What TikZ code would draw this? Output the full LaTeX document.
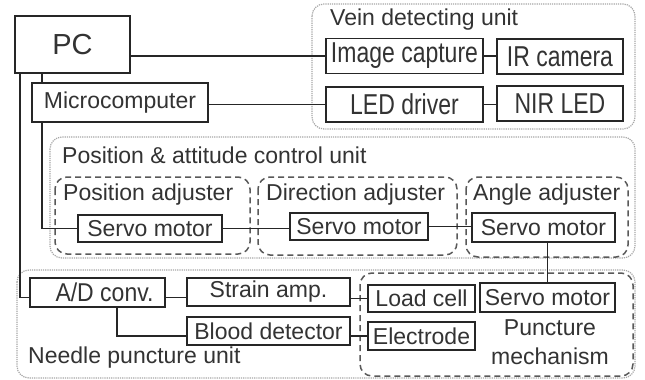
\documentclass[tikz,border=0pt]{standalone}
\usepackage{graphicx}
\usepackage{fontspec}
\setmainfont{Liberation Sans}
\newcommand{\tallA}[1]{\scalebox{1}[1.25]{#1}}
\newcommand{\tallB}[1]{\scalebox{1}[1.12]{#1}}
\begin{document}
\begin{tikzpicture}[x=1pt,y=-1pt,
  txt/.style={text=black!80, font=\fontsize{23}{26}\selectfont},
  box/.style={draw=black!85, line width=1.6pt, inner sep=0pt, txt},
  unit/.style={draw=black!35, densely dotted, line width=1.2pt, rounded corners=12pt},
  sub/.style={draw=black!65, dash pattern=on 6pt off 4pt, line width=1.5pt, rounded corners=12pt},
  lbl/.style={txt, anchor=west, inner sep=0pt},
  conn/.style={draw=black!85, line width=1.6pt},
  thin/.style={draw=black!85, line width=1.1pt}]
\useasboundingbox (0,0) rectangle (645,380);
\fill[white] (0,0) rectangle (645,380);
% unit frames
\draw[unit] (312,4) rectangle (635,129);
\draw[unit] (50,137) rectangle (635,258);
\draw[unit] (17,270) rectangle (635,378);
\draw[sub] (55,177) rectangle (250,254);
\draw[sub] (258,177) rectangle (457,255);
\draw[sub] (466,177) rectangle (628,257);
\draw[sub] (360,273) rectangle (633,376);
% labels
\node[lbl] (lv) at (330,20) {Vein detecting unit};
\node[lbl] (lp) at (62,155) {Position \& attitude control unit};
\node[lbl] (lpa) at (63,195) {Position adjuster};
\node[lbl] (lda) at (266,195) {Direction adjuster};
\node[lbl] (laa) at (473,195) {Angle adjuster};
\node[lbl] (ln) at (28,358) {Needle puncture unit};
\node[txt, align=center, inner sep=0pt, font=\fontsize{23}{29}\selectfont] (pm) at (550,342) {Puncture\\mechanism};
% boxes
\node[box, minimum width=115pt, minimum height=57pt, font=\fontsize{29}{32}\selectfont] (pc) at (72.5,44.5) {PC};
\node[box, minimum width=176pt, minimum height=39pt] (mc) at (120,102.5) {Microcomputer};
\node[box, minimum width=157pt, minimum height=35pt] (img) at (404.5,56) {\tallA{Image capture}};
\node[box, minimum width=126pt, minimum height=35pt] (ir) at (560,56.5) {\tallA{IR camera}};
\node[box, minimum width=157pt, minimum height=35pt] (led) at (404.5,104.5) {\tallA{LED driver}};
\node[box, minimum width=126pt, minimum height=35pt] (nir) at (560,103.5) {\tallA{NIR LED}};
\node[box, minimum width=144pt, minimum height=27pt] (s1) at (150,228.5) {Servo motor};
\node[box, minimum width=138pt, minimum height=27pt] (s2) at (359,226.5) {Servo motor};
\node[box, minimum width=143pt, minimum height=29pt] (s3) at (543.5,227.5) {Servo motor};
\node[box, minimum width=135pt, minimum height=29pt] (ad) at (97.5,292.5) {\hspace*{14pt}\tallB{A/D conv.}};
\node[box, minimum width=163pt, minimum height=28pt] (sa) at (268.5,292) {Strain amp.};
\node[box, minimum width=163pt, minimum height=28pt] (bd) at (268.5,331) {Blood detector};
\node[box, minimum width=107pt, minimum height=27pt] (lc) at (421.5,298.5) {Load cell};
\node[box, minimum width=135pt, minimum height=29pt] (s4) at (547.5,297.5) {Servo motor};
\node[box, minimum width=107pt, minimum height=28pt] (el) at (421.5,336) {Electrode};
% connectors
\draw[conn] (pc.east |- img.west) -- (img.west);
\draw[conn] (mc.east |- led.west) -- (led.west);
\draw[conn] (img.east) -- (ir.west |- img.east);
\draw[conn] (led.east) -- (nir.west |- led.east);
\coordinate (pcA) at (42,0);
\coordinate (pcB) at (20,0);
\draw[conn] (pc.south -| pcA) -- (mc.north -| pcA);
\draw[conn] (mc.south -| pcA) |- (s1.west);
\draw[conn] (pc.south -| pcB) |- ([yshift=-5pt]ad.west);
\draw[thin] (s1.east) -- (s2.west |- s1.east);
\draw[thin] (s2.east) -- (s3.west |- s2.east);
\draw[thin] (s3.south -| s4.north) -- (s4.north);
\draw[conn] ([yshift=-5pt]ad.east) -- ([yshift=-5pt]sa.west |- ad.east);
\coordinate (adB) at (117,0);
\draw[conn] (ad.south -| adB) |- ([yshift=-5pt]bd.west);
\draw[conn] (sa.east |- lc.west) -- (lc.west);
\draw[conn] ([yshift=-5pt]bd.east) -- ([yshift=-5pt]el.west |- bd.east);
\end{tikzpicture}
\end{document}
